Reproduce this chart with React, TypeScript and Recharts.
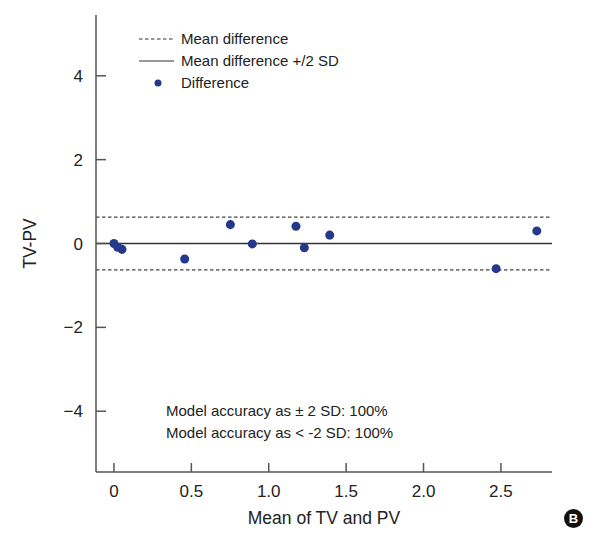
import React from "react";
import {
  ScatterChart,
  Scatter,
  XAxis,
  YAxis,
  ZAxis,
  ReferenceLine,
  Legend,
} from "recharts";

// Bland-Altman style data: x = mean of TV and PV, y = TV-PV
const meanValues = [0.0, 0.024, 0.052, 0.457, 0.752, 0.894, 1.176, 1.23, 1.394, 2.469, 2.732];
const diffValues = [0.0, -0.09, -0.14, -0.37, 0.45, -0.01, 0.41, -0.1, 0.2, -0.6, 0.3];

const meanDifference = 0;
const upperLimit = 0.63;
const lowerLimit = -0.63;

const xTicks = [0, 0.5, 1.0, 1.5, 2.0, 2.5];
const yTicks = [-4, -2, 0, 2, 4];

const legendItems = ["Mean difference", "Mean difference +/2 SD", "Difference"];
const notes = ["Model accuracy as \u00b1 2 SD: 100%", "Model accuracy as < -2 SD: 100%"];

const FONT = "'Liberation Sans', Arial, sans-serif";
const DOT = "#24398c";
const AXIS = "#555";

const points = meanValues.map((x, i) => ({ x, y: diffValues[i] }));

// legend drawn in the top-left corner of the plot
const LegendBox = () => (
  <div style={{ fontFamily: FONT, fontSize: 15, color: "#222", lineHeight: "22px" }}>
    {legendItems.map((name, i) => (
      <div key={name} style={{ display: "flex", alignItems: "center" }}>
        <svg width={44} height={22}>
          {i === 0 && <line x1={2} x2={37} y1={11} y2={11} stroke="#333" strokeDasharray="3.5 2.5" />}
          {i === 1 && <line x1={2} x2={37} y1={11} y2={11} stroke="#333" />}
          {i === 2 && <circle cx={21} cy={11} r={3.5} fill={DOT} />}
        </svg>
        <span>{name}</span>
      </div>
    ))}
  </div>
);

const fmtX = (v: number) => (v === 0 ? "0" : v.toFixed(1));
const fmtY = (v: number) => (v < 0 ? "\u2212" + Math.abs(v) : String(v));

export default function App() {
  return (
    <div style={{ position: "relative", width: 595, height: 536, background: "#fff" }}>
      <style>{"body{margin:0}"}</style>
      <ScatterChart
        width={595}
        height={536}
        margin={{ top: 15, right: 43, bottom: 0, left: 0 }}
        style={{ fontFamily: FONT }}
      >
        <XAxis
          type="number"
          dataKey="x"
          domain={[-0.116, 2.83]}
          ticks={xTicks}
          tickFormatter={fmtX}
          allowDataOverflow
          height={64}
          tickSize={-9}
          tickMargin={22}
          stroke={AXIS}
          strokeWidth={1.5}
          tick={{ fill: "#222", fontSize: 17 }}
          label={{ value: "Mean of TV and PV", position: "insideBottom", offset: 12, fill: "#222", fontSize: 17.5 }}
        />
        <YAxis
          type="number"
          dataKey="y"
          domain={[-5.45, 5.45]}
          ticks={yTicks}
          tickFormatter={fmtY}
          allowDataOverflow
          width={96}
          tickSize={-10}
          tickMargin={23}
          stroke={AXIS}
          strokeWidth={1.5}
          tick={{ fill: "#222", fontSize: 17 }}
          label={{ value: "TV-PV", angle: -90, position: "center", dx: -18, fill: "#222", fontSize: 17.5 }}
        />
        <ZAxis range={[50, 50]} />
        <ReferenceLine y={upperLimit} stroke="#444" strokeDasharray="3.5 2.5" strokeWidth={1.3} />
        <ReferenceLine y={lowerLimit} stroke="#444" strokeDasharray="3.5 2.5" strokeWidth={1.3} />
        <ReferenceLine y={meanDifference} stroke="#333" strokeWidth={1.3} />
        <Legend
          content={<LegendBox />}
          verticalAlign="middle"
          align="center"
          wrapperStyle={{ top: 28, left: 137, width: "auto" }}
        />
        <Scatter data={points} fill={DOT} isAnimationActive={false} shape="circle" />
      </ScatterChart>
      <div
        style={{
          position: "absolute",
          left: 166,
          top: 400,
          fontFamily: FONT,
          fontSize: 15,
          lineHeight: "21.5px",
          color: "#222",
        }}
      >
        {notes.map((n) => (
          <div key={n}>{n}</div>
        ))}
      </div>
      <div
        style={{
          position: "absolute",
          left: 564,
          top: 509,
          width: 19,
          height: 19,
          borderRadius: "50%",
          background: "#111",
          color: "#fff",
          fontFamily: FONT,
          fontWeight: "bold",
          fontSize: 13,
          lineHeight: "19px",
          textAlign: "center",
        }}
      >
        B
      </div>
    </div>
  );
}
